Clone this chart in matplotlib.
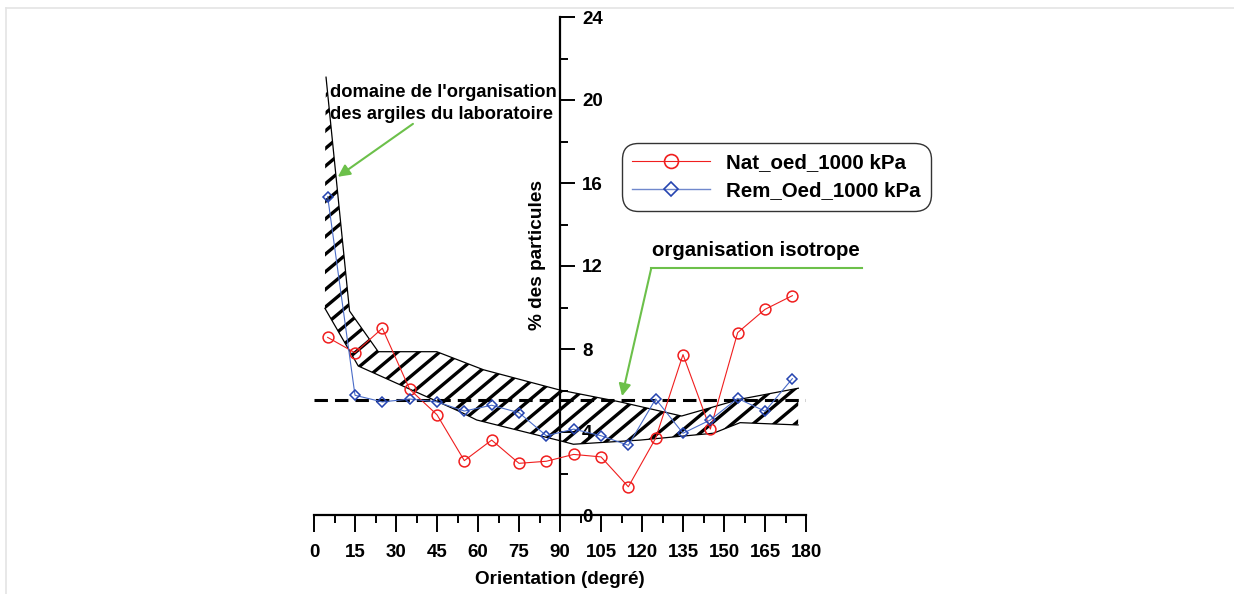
import matplotlib
matplotlib.use("Agg")
import numpy as np
import matplotlib.pyplot as plt
from matplotlib.patches import Polygon
from matplotlib.lines import Line2D
from matplotlib.collections import LineCollection
from matplotlib.ticker import MultipleLocator

plt.rcParams['font.family'] = ['Liberation Sans', 'DejaVu Sans']

# ---- data ----
orientation = [5, 15, 25, 35, 45, 55, 65, 75, 85, 95, 105, 115, 125, 135, 145, 155, 165, 175]
nat_oed = [8.56, 7.82, 9.0, 6.06, 4.83, 2.62, 3.61, 2.49, 2.59, 2.92, 2.80, 1.36,
           3.70, 7.73, 4.14, 8.79, 9.91, 10.57]
rem_oed = [15.34, 5.77, 5.45, 5.59, 5.45, 5.01, 5.29, 4.93, 3.82, 4.14, 3.82, 3.36,
           5.59, 3.94, 4.58, 5.62, 5.0, 6.57]
isotrope = 100.0 / 18.0

# domain of laboratory clays (band) : upper and lower boundary
dom_upper_x = [4.4, 13.0, 23.5, 44.9, 62.0, 90.0, 112.0, 134.5, 155.9, 177.2]
dom_upper_y = [21.1, 9.83, 7.87, 7.87, 7.0, 6.02, 5.45, 4.77, 5.58, 6.11]
dom_lower_x = [4.0, 16.2, 53.4, 59.5, 90.0, 94.9, 119.3, 146.1, 155.9, 177.1]
dom_lower_y = [9.96, 7.18, 4.98, 4.58, 3.58, 3.41, 3.61, 3.94, 4.45, 4.34]

x_ticks = list(range(0, 181, 15))
y_ticks = list(range(0, 25, 4))

# ---- figure ----
W, H = 1234, 594
fig = plt.figure(figsize=(W / 100, H / 100), dpi=100)
ax_w_px, ax_h_px = 492, 498
ax = fig.add_axes([314 / W, 1 - 515 / H, ax_w_px / W, ax_h_px / H])
ax.set_xlim(0, 180)
ax.set_ylim(0, 24)

# hatched band (custom hatch: thick diagonal strokes clipped to the band)
verts = list(zip(dom_upper_x, dom_upper_y)) + list(zip(dom_lower_x[::-1], dom_lower_y[::-1]))
verts.append((4.1, 18.3))
band = Polygon(verts, closed=True, facecolor='none', edgecolor='none', zorder=1)
ax.add_patch(band)
spacing_px = 21.0
ang = np.deg2rad(40)
dx_total = ax_h_px / np.tan(ang)
segs = []
off = -dx_total
while off < ax_w_px + spacing_px:
    segs.append([(off / ax_w_px, 0.0), ((off + dx_total) / ax_w_px, 1.0)])
    off += spacing_px
hatch = LineCollection(segs, colors='black', linewidths=2.4, transform=ax.transAxes,
                       capstyle='butt', zorder=1)
ax.add_collection(hatch)
hatch.set_clip_path(band)

ax.plot(dom_upper_x, dom_upper_y, color='black', lw=0.9, zorder=2)
ax.plot(dom_lower_x, dom_lower_y, color='black', lw=0.9, zorder=2)

# isotropic dashed line
ax.plot([0, 180], [isotrope, isotrope], color='black', lw=2.2, dashes=(4.4, 2.3), zorder=3)

# series
ax.plot(orientation, nat_oed, color='#f01e1e', lw=0.8, marker='o', markersize=7.8,
        markerfacecolor='none', markeredgecolor='#f01e1e', markeredgewidth=1.1, zorder=4)
ax.plot(orientation, rem_oed, color='#4a6cc8', lw=0.8, marker='D', markersize=5,
        markerfacecolor='none', markeredgecolor='#2544b0', markeredgewidth=1.1, zorder=5)

# spines
ax.spines['top'].set_visible(False)
ax.spines['left'].set_visible(False)
ax.spines['right'].set_position(('data', 90))
ax.spines['right'].set_linewidth(1.6)
ax.spines['bottom'].set_linewidth(1.6)
ax.yaxis.tick_right()

ax.set_xticks(x_ticks)
ax.set_yticks(y_ticks)
ax.xaxis.set_minor_locator(MultipleLocator(7.5))
ax.yaxis.set_minor_locator(MultipleLocator(2))
ax.tick_params(axis='x', which='major', direction='out', length=12, width=1.4, pad=9,
               labelsize=13.5)
ax.tick_params(axis='x', which='minor', direction='out', length=6, width=1.4)
ax.tick_params(axis='y', which='major', direction='out', length=11, width=1.4, pad=5,
               labelsize=13.5)
ax.tick_params(axis='y', which='minor', direction='out', length=6, width=1.4)
for lab in ax.get_xticklabels() + ax.get_yticklabels():
    lab.set_fontweight('bold')

ax.set_xlabel('Orientation (degré)', fontsize=13.6, fontweight='bold', labelpad=7)
ax.text(81.6, 12.53, '% des particules', rotation=90, ha='center', va='center',
        fontsize=13.7, fontweight='bold')

# annotations
ax.text(6.0, 19.83, "domaine de l'organisation\ndes argiles du laboratoire",
        fontsize=13.2, fontweight='bold', ha='left', va='center', linespacing=1.38)
green = '#6cc04a'
ax.annotate('', xy=(8.7, 16.3), xytext=(36.2, 18.85),
            arrowprops=dict(arrowstyle='-|>', color=green, lw=1.5,
                            mutation_scale=18, shrinkA=0, shrinkB=0))
ax.text(123.8, 12.75, 'organisation isotrope', fontsize=14.7, fontweight='bold',
        ha='left', va='center')
ax.plot([200.5, 123.4], [11.9, 11.9], color=green, lw=1.5, clip_on=False)
ax.annotate('', xy=(112.7, 5.73), xytext=(123.4, 11.9),
            arrowprops=dict(arrowstyle='-|>', color=green, lw=1.5,
                            mutation_scale=18, shrinkA=0, shrinkB=0))

# legend
handles = [
    Line2D([], [], color='#f01e1e', lw=0.8, marker='o', markersize=10,
           markerfacecolor='none', markeredgecolor='#f01e1e', markeredgewidth=1.2),
    Line2D([], [], color='#7088cc', lw=1.0, marker='D', markersize=7,
           markerfacecolor='none', markeredgecolor='#2544b0', markeredgewidth=1.2),
]
leg = ax.legend(handles, ['Nat_oed_1000 kPa', 'Rem_Oed_1000 kPa'],
                loc='upper left', bbox_to_anchor=((622 - 314) / ax_w_px, (515 - 143) / ax_h_px),
                frameon=True, fancybox=True, handlelength=3.8, handletextpad=0.75,
                prop=dict(size=14.8, weight='bold'), borderpad=0.5, labelspacing=0.45,
                borderaxespad=0)
frame = leg.get_frame()
frame.set_edgecolor('black')
frame.set_linewidth(1.0)
frame.set_boxstyle('round,pad=0,rounding_size=0.8')

# faint outer border
fig.add_artist(Line2D([6 / W, 1], [1 - 8 / H, 1 - 8 / H], color='#e4e4e4', lw=1.2))
fig.add_artist(Line2D([6 / W, 6 / W], [0, 1 - 8 / H], color='#e4e4e4', lw=1.2))

fig.savefig('out.png', dpi=100)
